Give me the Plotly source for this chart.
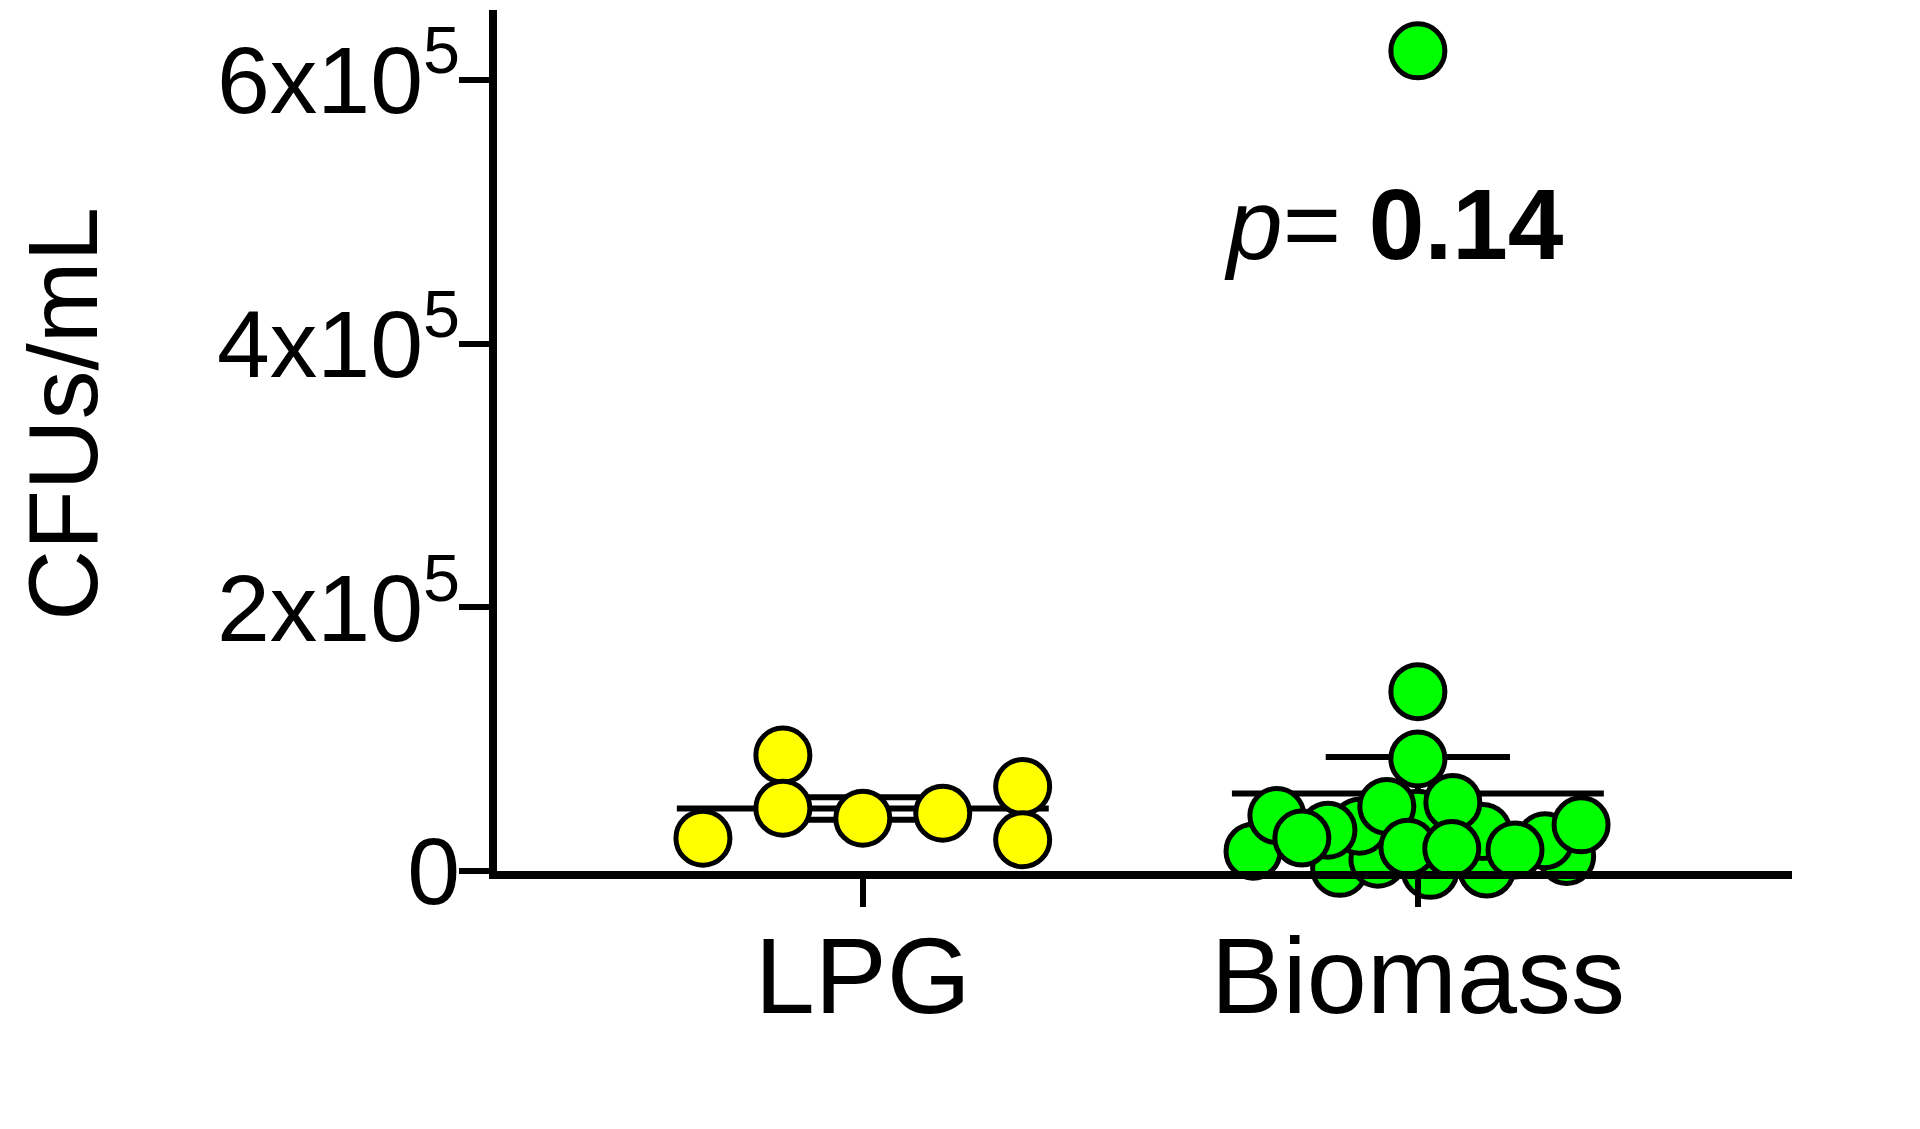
import numpy as np
import plotly.graph_objects as go

# ---- data ----
categories = ["LPG", "Biomass"]
lpg_values = [24900, 87900, 47600, 40000, 43800, 64000, 23700]
biomass_values = [2000, 500, 1500, 11000, 9000, 34000, 31000, 40000, 30000, 23000,
                  15000, 42000, 25000, 49000, 52000, 18000, 17000, 16000, 35000,
                  85000, 136000, 622000]
y_tick_vals = [0, 200000, 400000, 600000]
y_tick_text = ["0", "2x10<sup>5</sup>", "4x10<sup>5</sup>", "6x10<sup>5</sup>"]
p_text = "<i>p</i>= <b>0.14</b>"
y_title = "CFUs/mL"

# ---- layout constants (horizontal scatter of the dots, in category units) ----
lpg_jitter = [-0.288, -0.144, -0.144, 0.0, 0.144, 0.288, 0.288]
biomass_jitter = [-0.141, 0.022, 0.124, 0.268, -0.072, -0.105, -0.162, 0.0, 0.117,
                  0.229, -0.297, -0.254, -0.209, -0.056, 0.063, -0.018, 0.061,
                  0.175, 0.294, 0.0, 0.0, 0.0]

FONT = "Liberation Sans, Arial, Helvetica, sans-serif"
colors = ["#FFFF00", "#00FF00"]
groups = [lpg_values, biomass_values]
jitters = [lpg_jitter, biomass_jitter]

fig = go.Figure()

MEAN_HW = 0.335
SEM_HW = 0.166
LW = 6

# mean and SEM lines (beneath markers)
for i, vals in enumerate(groups):
    arr = np.array(vals, dtype=float)
    m = arr.mean()
    sem = arr.std(ddof=1) / np.sqrt(len(arr))
    xs = [i - MEAN_HW, i + MEAN_HW, None,
          i - SEM_HW, i + SEM_HW, None,
          i - SEM_HW, i + SEM_HW, None,
          i, i]
    ys = [m, m, None,
          m + sem, m + sem, None,
          m - sem, m - sem, None,
          m - sem, m + sem]
    fig.add_trace(go.Scatter(x=xs, y=ys, mode="lines",
                             line=dict(color="black", width=LW),
                             hoverinfo="skip", showlegend=False, cliponaxis=False))

# dots
for i, vals in enumerate(groups):
    fig.add_trace(go.Scatter(
        x=[i + j for j in jitters[i]], y=vals, mode="markers",
        marker=dict(size=54, color=colors[i], line=dict(color="black", width=5)),
        showlegend=False, cliponaxis=False, name=categories[i]))

fig.update_layout(
    width=1920, height=1129,
    margin=dict(l=489, r=136, t=2, b=266),
    paper_bgcolor="white", plot_bgcolor="white",
    font=dict(family=FONT, color="black"),
    xaxis=dict(
        range=[-0.659, 1.674],
        tickmode="array", tickvals=[0, 1], ticktext=categories,
        showline=True, linecolor="black", linewidth=8,
        ticks="outside", ticklen=28, tickwidth=6, tickcolor="black",
        ticklabelstandoff=-24,
        tickfont=dict(size=108, family=FONT, color="black"),
        showgrid=False, zeroline=False, fixedrange=True,
    ),
    yaxis=dict(
        range=[0, 653000],
        tickmode="array", tickvals=y_tick_vals, ticktext=y_tick_text,
        showline=True, linecolor="black", linewidth=8,
        ticks="outside", ticklen=30, tickwidth=6, tickcolor="black",
        ticklabelstandoff=-20,
        tickfont=dict(size=95, family=FONT, color="black"),
        showgrid=False, zeroline=False, fixedrange=True,
    ),
    annotations=[
        dict(text=y_title, xref="paper", yref="paper", x=0, y=0.531,
             xshift=-434, textangle=-90, showarrow=False,
             xanchor="center", yanchor="middle",
             font=dict(size=98, family=FONT, color="black")),
        dict(text=p_text, xref="paper", yref="paper", x=0.693, y=0.752,
             showarrow=False, xanchor="center", yanchor="middle",
             font=dict(size=100, family=FONT, color="black")),
    ],
)

fig.write_html("out.html")
